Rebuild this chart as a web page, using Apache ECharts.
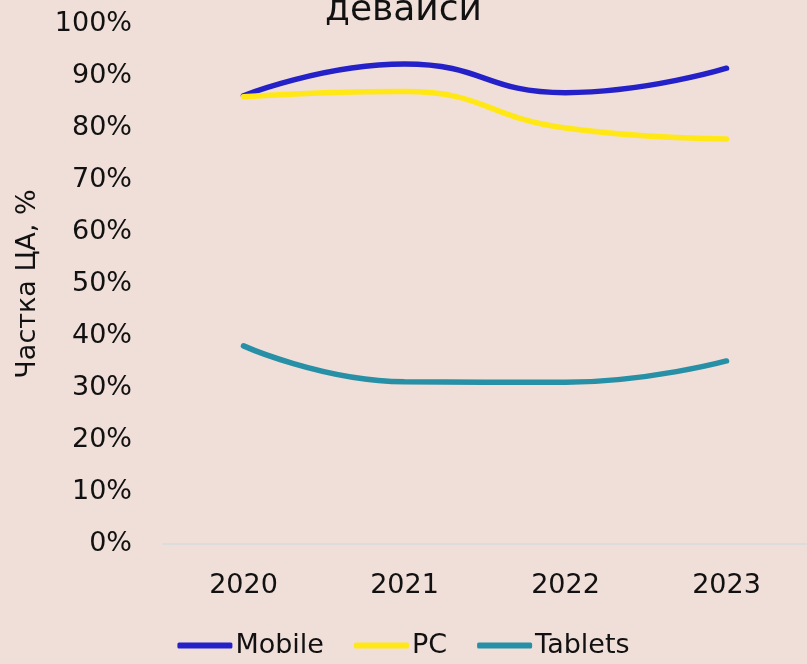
<!DOCTYPE html>
<html>
<head>
<meta charset="utf-8">
<script src="https://cdn.jsdelivr.net/npm/echarts@6/dist/echarts.min.js"></script>
<style>
  html, body { margin: 0; padding: 0; background: #f0ded8; }
  #chart { width: 807px; height: 664px; }
</style>
</head>
<body>
<div id="chart"></div>
<script>
var years = ['2020', '2021', '2022', '2023'];
var mobile = [86.2, 92.3, 86.8, 91.5];
var pc = [86.0, 87.0, 80.0, 77.9];
var tablets = [38.1, 31.2, 31.1, 35.2];
var seriesNames = ['Mobile', 'PC', 'Tablets'];
var colors = ['#2521c9', '#ffe816', '#2790a6'];

var font = 'DejaVu Sans';

function lineSeries(name, data, color) {
  return {
    name: name,
    type: 'line',
    smooth: 0.5,
    symbol: 'none',
    data: data,
    lineStyle: { width: 5.5, color: color, cap: 'round' },
    itemStyle: { color: color }
  };
}

var chart = echarts.init(document.getElementById('chart'));
chart.setOption({
  backgroundColor: '#f0ded8',
  animation: false,
  title: {
    text: 'девайси',
    left: 'center',
    top: -12,
    textStyle: { fontFamily: font, fontSize: 36, fontWeight: 'normal', color: '#111' }
  },
  grid: { left: 163, top: 24, width: 645, height: 520 },
  legend: {
    data: seriesNames,
    bottom: 0,
    left: 'center',
    icon: 'roundRect',
    itemWidth: 55,
    itemHeight: 6,
    itemGap: 30,
    textStyle: { fontFamily: font, fontSize: 27, color: '#111', padding: [0, 0, 0, -2] }
  },
  xAxis: {
    type: 'category',
    data: years,
    boundaryGap: true,
    axisLine: { lineStyle: { color: '#dcdcdc', width: 2 } },
    axisTick: { show: false },
    axisLabel: { margin: 28, fontFamily: font, fontSize: 27, color: '#111' }
  },
  yAxis: {
    type: 'value',
    min: 0,
    max: 100,
    interval: 10,
    name: 'Частка ЦА, %',
    nameLocation: 'middle',
    nameRotate: 90,
    nameGap: 122,
    nameTextStyle: { fontFamily: font, fontSize: 27, color: '#111' },
    splitLine: { show: false },
    axisLine: { show: false },
    axisTick: { show: false },
    axisLabel: { margin: 31, formatter: '{value}%', fontFamily: font, fontSize: 27, color: '#111' }
  },
  series: [
    lineSeries(seriesNames[0], mobile, colors[0]),
    lineSeries(seriesNames[1], pc, colors[1]),
    lineSeries(seriesNames[2], tablets, colors[2])
  ]
});
</script>
</body>
</html>
